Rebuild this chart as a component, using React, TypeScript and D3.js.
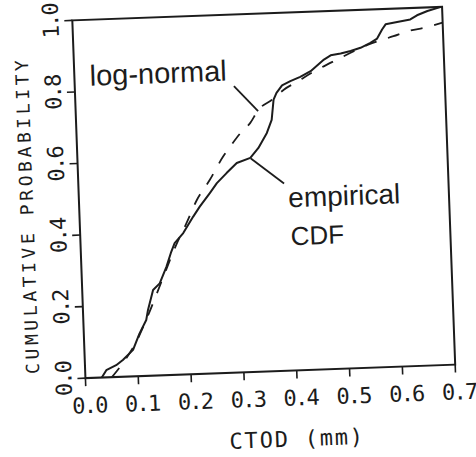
import React from "react";
import * as d3 from "d3";

// ---- data ----
const empiricalX = [0.031, 0.040, 0.059, 0.072, 0.092, 0.105, 0.119, 0.123, 0.134, 0.147, 0.161, 0.171, 0.178, 0.195, 0.215, 0.228, 0.248, 0.262, 0.281, 0.301, 0.327, 0.343, 0.360, 0.370, 0.375, 0.381, 0.392, 0.408, 0.427, 0.447, 0.473, 0.486, 0.505, 0.524, 0.543, 0.562, 0.575, 0.585, 0.592, 0.614, 0.639, 0.652, 0.672, 0.698];
const empiricalY = [0.000, 0.020, 0.033, 0.047, 0.074, 0.118, 0.156, 0.184, 0.239, 0.257, 0.303, 0.344, 0.368, 0.395, 0.440, 0.467, 0.504, 0.531, 0.558, 0.585, 0.598, 0.625, 0.666, 0.702, 0.758, 0.777, 0.797, 0.808, 0.819, 0.834, 0.865, 0.876, 0.880, 0.886, 0.894, 0.907, 0.918, 0.943, 0.957, 0.962, 0.968, 0.979, 0.990, 1.000];

const logNormalX = [0.050, 0.070, 0.100, 0.120, 0.150, 0.180, 0.202, 0.223, 0.249, 0.276, 0.290, 0.310, 0.329, 0.346, 0.372, 0.395, 0.420, 0.450, 0.500, 0.530, 0.560, 0.606, 0.635, 0.667, 0.700];
const logNormalY = [0.000, 0.035, 0.100, 0.160, 0.260, 0.360, 0.423, 0.486, 0.541, 0.605, 0.632, 0.668, 0.695, 0.732, 0.758, 0.785, 0.805, 0.830, 0.865, 0.885, 0.903, 0.923, 0.936, 0.944, 0.956];

const xTicks = [0, 0.1, 0.2, 0.3, 0.4, 0.5, 0.6, 0.7];
const yTicks = [0, 0.2, 0.4, 0.6, 0.8, 1.0];

const xTitle = "CTOD (mm)";
const yTitle = "CUMULATIVE PROBABILITY";
const labelLogNormal = "log-normal";
const labelEmpirical = ["empirical", "CDF"];

// annotation anchors in data units
const logNormalLabelAt = [0.029, 0.816];
const logNormalPointer = [[0.301, 0.800], [0.345, 0.728]];
const empiricalLabelAt = [0.396, 0.456];
const cdfLabelAt = [0.398, 0.350];
const empiricalPointer = [[0.328, 0.596], [0.389, 0.523]];

export default function App() {
  const W = 476, H = 457;
  const left = 78.75, right = 448.75, top = 13.5, bottom = 371.5;
  const cx = (left + right) / 2, cy = 192.5;

  const x = d3.scaleLinear().domain([0, 0.7]).range([left, right]);
  const y = d3.scaleLinear().domain([0, 1]).range([bottom, top]);

  const emp = empiricalX.map((v, i) => [v, empiricalY[i]] as [number, number]);
  const ln = logNormalX.map((v, i) => [v, logNormalY[i]] as [number, number]);

  const line = d3.line<[number, number]>().x(d => x(d[0])).y(d => y(d[1]));
  const smooth = d3.line<[number, number]>().x(d => x(d[0])).y(d => y(d[1])).curve(d3.curveMonotoneX);

  const fmt = d3.format(".1f");
  const ink = "#1c1c1c";
  const mono = "'DejaVu Sans Mono', monospace";
  const sans = "'Liberation Sans', Arial, sans-serif";

  return (
    <svg width={W} height={H} style={{ position: "absolute", left: 0, top: 0, background: "#fff" }}>
      <rect width={W} height={H} fill="#fff" />
      <g transform={`rotate(-2.1, ${cx}, ${cy})`}>
        {/* frame */}
        <rect x={left} y={top} width={right - left} height={bottom - top} fill="none" stroke={ink} strokeWidth={2} />

        {/* x ticks */}
        {xTicks.map(t => (
          <g key={"x" + t}>
            <line x1={x(t)} x2={x(t)} y1={bottom} y2={bottom + 8} stroke={ink} strokeWidth={1.6} />
            <text x={x(t) + 3} y={bottom + 35} textAnchor="middle" fontFamily={mono} fontSize={22} letterSpacing={-1.8} fill={ink}>
              {fmt(t)}
            </text>
          </g>
        ))}

        {/* y ticks */}
        {yTicks.map(t => (
          <g key={"y" + t}>
            <line x1={left - 8} x2={left} y1={y(t)} y2={y(t)} stroke={ink} strokeWidth={1.6} />
            <text
              transform={`translate(${left - 14}, ${y(t)}) rotate(-90)`}
              textAnchor="middle"
              fontFamily={mono}
              fontSize={22}
              letterSpacing={-1.8}
              fill={ink}
            >
              {fmt(t)}
            </text>
          </g>
        ))}

        {/* axis titles */}
        <text x={left + 0.566 * (right - left)} y={bottom + 76} textAnchor="middle" fontFamily={mono} fontSize={22} letterSpacing={1.8} fill={ink}>
          {xTitle}
        </text>
        <text
          transform={`translate(${left - 46}, ${cy + 14}) rotate(-90)`}
          textAnchor="middle"
          fontFamily={mono}
          fontSize={18}
          letterSpacing={3.6}
          fill={ink}
        >
          {yTitle}
        </text>

        {/* curves */}
        <path d={smooth(ln) ?? ""} fill="none" stroke={ink} strokeWidth={1.8} strokeDasharray="12,12" />
        <path d={line(emp) ?? ""} fill="none" stroke={ink} strokeWidth={2} strokeLinejoin="round" />

        {/* annotations */}
        <line x1={x(logNormalPointer[0][0])} y1={y(logNormalPointer[0][1])} x2={x(logNormalPointer[1][0])} y2={y(logNormalPointer[1][1])} stroke={ink} strokeWidth={1.8} />
        <line x1={x(empiricalPointer[0][0])} y1={y(empiricalPointer[0][1])} x2={x(empiricalPointer[1][0])} y2={y(empiricalPointer[1][1])} stroke={ink} strokeWidth={1.8} />
        <text x={x(logNormalLabelAt[0])} y={y(logNormalLabelAt[1])} fontFamily={sans} fontSize={29} fill={ink}>
          {labelLogNormal}
        </text>
        <text x={x(empiricalLabelAt[0])} y={y(empiricalLabelAt[1])} fontFamily={sans} fontSize={28} fill={ink}>
          {labelEmpirical[0]}
        </text>
        <text x={x(cdfLabelAt[0])} y={y(cdfLabelAt[1])} fontFamily={sans} fontSize={26} fill={ink}>
          {labelEmpirical[1]}
        </text>
      </g>
    </svg>
  );
}
